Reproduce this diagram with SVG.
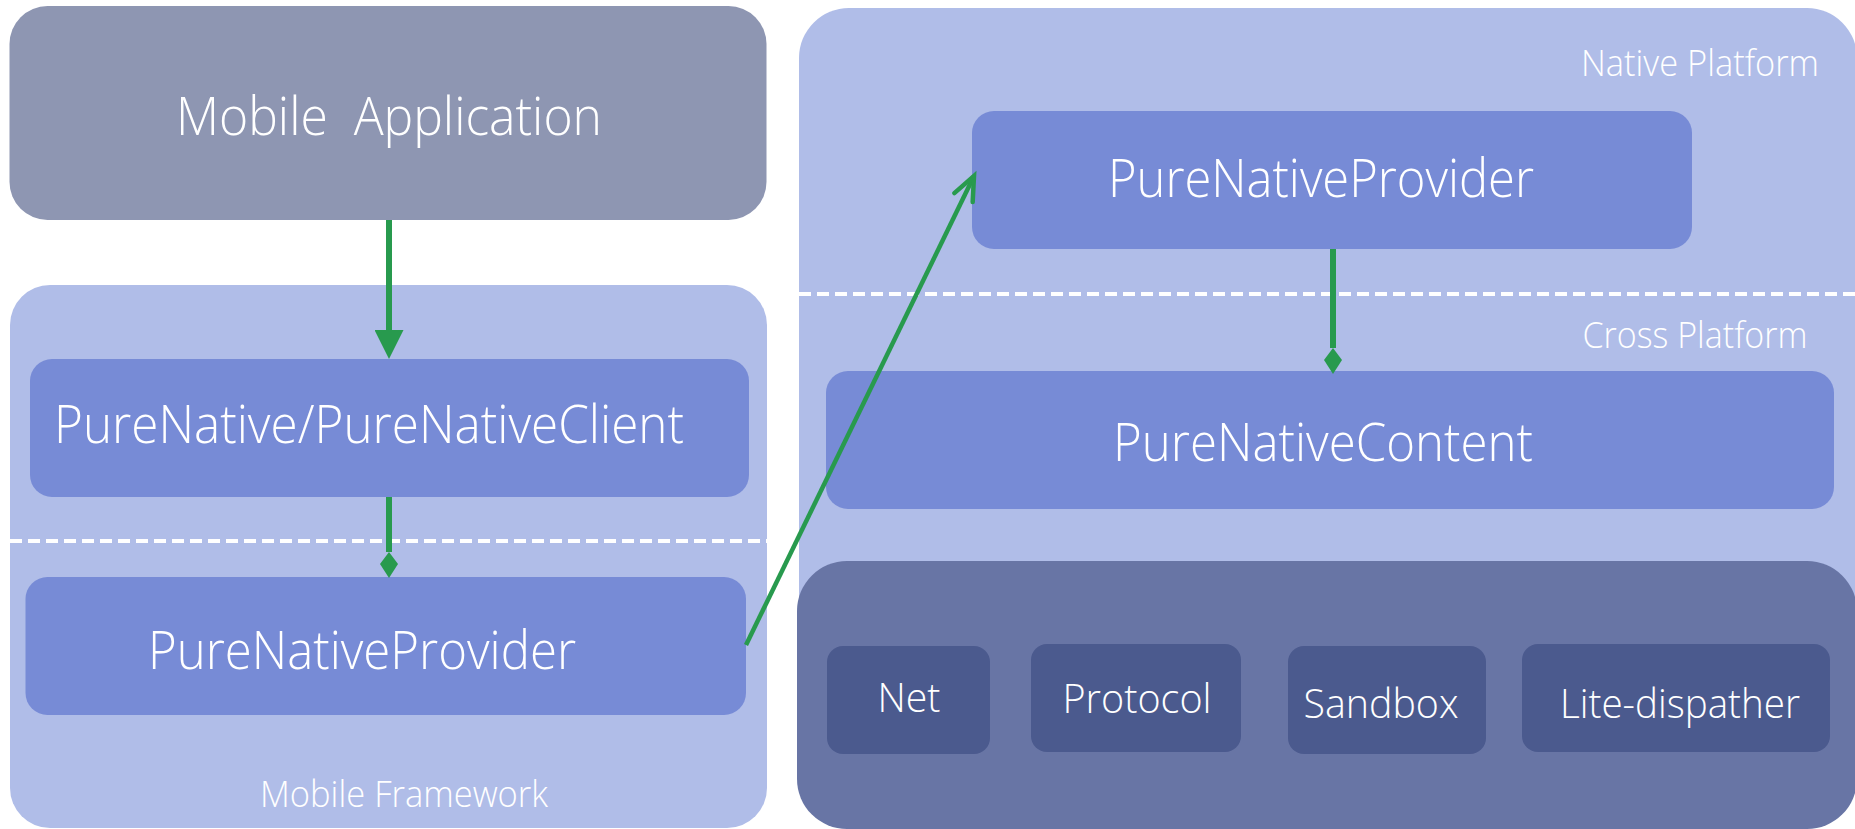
<svg xmlns="http://www.w3.org/2000/svg" width="1855" height="829" viewBox="0 0 1855 829">
  <style>
    text { font-family: "Open Sans", "Lato", "Liberation Sans", sans-serif; font-weight: 300; fill: #ffffff; }
    .big { font-size: 53px; }
    .caption { font-size: 37px; }
    .small { font-size: 41px; }
    .app { fill: #8E96B2; }
    .frame { fill: #B0BDE8; }
    .node { fill: #778BD6; }
    .base { fill: #6875A5; }
    .module { fill: #4B5A8E; }
    .divider { stroke: #ffffff; stroke-width: 4; stroke-dasharray: 12 6; fill: none; }
    .link { stroke: #289A4E; fill: none; }
  </style>
  <defs>
    <marker id="arrowFill" markerUnits="userSpaceOnUse" viewBox="0 0 29 29" markerWidth="29" markerHeight="29" refX="0" refY="14.5" orient="auto">
      <path d="M0,0 L29,14.5 L0,29 Z" fill="#289A4E"/>
    </marker>
    <marker id="diamond" markerUnits="userSpaceOnUse" viewBox="0 0 26 18" markerWidth="26" markerHeight="18" refX="0" refY="9" orient="auto">
      <path d="M0,9 L12,0 L26,9 L12,18 Z" fill="#289A4E"/>
    </marker>
    <marker id="arrowOpen" markerUnits="userSpaceOnUse" viewBox="-30 -15 34 30" markerWidth="34" markerHeight="30" refX="0" refY="0" orient="auto" overflow="visible">
      <path d="M-24,-10.2 L0,0 L-24,10.2" fill="none" stroke="#289A4E" stroke-width="4.5" stroke-linecap="round" stroke-linejoin="miter"/>
    </marker>
  </defs>

  <!-- left column -->
  <g id="mobile-application">
    <rect class="app" x="9.5" y="6" width="757" height="214" rx="38"/>
    <text class="big" x="389" y="135" text-anchor="middle" xml:space="preserve" textLength="426" lengthAdjust="spacingAndGlyphs">Mobile  Application</text>
  </g>

  <g id="mobile-framework">
    <rect class="frame" x="10" y="285" width="757" height="543" rx="40"/>
    <line class="divider" x1="10" y1="541" x2="767" y2="541"/>
    <text class="caption" x="404" y="807" text-anchor="middle" textLength="288" lengthAdjust="spacingAndGlyphs">Mobile Framework</text>
  </g>

  <g id="purenative-client">
    <rect class="node" x="30" y="359" width="719" height="138" rx="22"/>
    <text class="big" x="54" y="443" textLength="630" lengthAdjust="spacingAndGlyphs">PureNative/PureNativeClient</text>
  </g>

  <g id="purenative-provider-mobile">
    <rect class="node" x="25.5" y="577" width="720.5" height="138" rx="22"/>
    <text class="big" x="362" y="669" text-anchor="middle" textLength="428" lengthAdjust="spacingAndGlyphs">PureNativeProvider</text>
  </g>

  <!-- right column -->
  <g id="native-platform">
    <rect class="frame" x="799" y="8" width="1058" height="800" rx="50"/>
    <line class="divider" x1="799" y1="294" x2="1855" y2="294"/>
    <text class="caption" x="1700" y="76" text-anchor="middle" textLength="238" lengthAdjust="spacingAndGlyphs">Native Platform</text>
    <text class="caption" x="1695" y="348" text-anchor="middle" textLength="225" lengthAdjust="spacingAndGlyphs">Cross Platform</text>
  </g>

  <g id="purenative-provider-native">
    <rect class="node" x="972" y="111" width="720" height="138" rx="22"/>
    <text class="big" x="1321" y="197" text-anchor="middle" textLength="426" lengthAdjust="spacingAndGlyphs">PureNativeProvider</text>
  </g>

  <g id="purenative-content">
    <rect class="node" x="826" y="371" width="1008" height="138" rx="22"/>
    <text class="big" x="1323" y="461" text-anchor="middle" textLength="420" lengthAdjust="spacingAndGlyphs">PureNativeContent</text>
  </g>

  <g id="base-layer">
    <rect class="base" x="797" y="561" width="1060" height="268" rx="50"/>
  </g>

  <g id="net">
    <rect class="module" x="827" y="646" width="163" height="108" rx="16"/>
    <text class="small" x="909" y="712" text-anchor="middle" textLength="63" lengthAdjust="spacingAndGlyphs">Net</text>
  </g>
  <g id="protocol">
    <rect class="module" x="1031" y="644" width="210" height="108" rx="16"/>
    <text class="small" x="1137" y="713" text-anchor="middle" textLength="149" lengthAdjust="spacingAndGlyphs">Protocol</text>
  </g>
  <g id="sandbox">
    <rect class="module" x="1288" y="646" width="198" height="108" rx="16"/>
    <text class="small" x="1381" y="718" text-anchor="middle" textLength="155" lengthAdjust="spacingAndGlyphs">Sandbox</text>
  </g>
  <g id="lite-dispather">
    <rect class="module" x="1522" y="644" width="308" height="108" rx="16"/>
    <text class="small" x="1680" y="718" text-anchor="middle" textLength="240" lengthAdjust="spacingAndGlyphs">Lite-dispather</text>
  </g>

  <!-- connectors -->
  <g id="connectors">
    <line class="link" x1="389" y1="220" x2="389" y2="330" stroke-width="6" marker-end="url(#arrowFill)"/>
    <line class="link" x1="389" y1="497" x2="389" y2="552" stroke-width="6" marker-end="url(#diamond)"/>
    <line class="link" x1="1333" y1="249" x2="1333" y2="348" stroke-width="6" marker-end="url(#diamond)"/>
    <line class="link" x1="746" y1="645" x2="974" y2="176" stroke-width="4.5" marker-end="url(#arrowOpen)"/>
  </g>
</svg>
